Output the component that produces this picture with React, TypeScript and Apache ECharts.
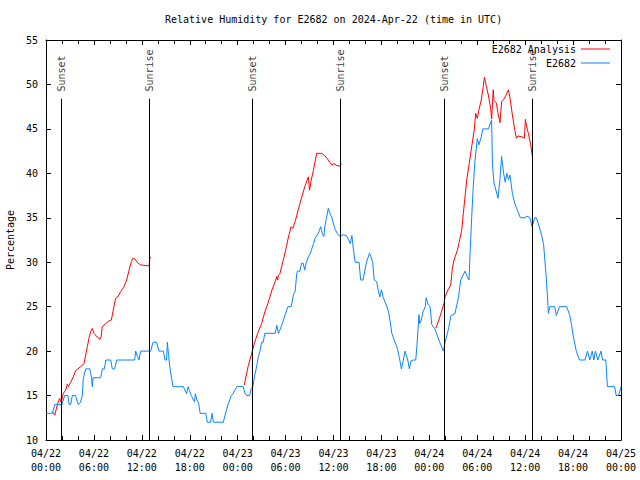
import React, { useEffect, useRef } from "react";
import * as echarts from "echarts";

const titleText = "Relative Humidity for E2682 on 2024-Apr-22 (time in UTC)";
const yAxisName = "Percentage";
const seriesNames = ["E2682 Analysis", "E2682"];
const xTickLabels = [
  "04/22\n00:00", "04/22\n06:00", "04/22\n12:00", "04/22\n18:00",
  "04/23\n00:00", "04/23\n06:00", "04/23\n12:00", "04/23\n18:00",
  "04/24\n00:00", "04/24\n06:00", "04/24\n12:00", "04/24\n18:00",
  "04/25\n00:00",
];
// hours since 04/22 00:00 UTC
const eventTimes = [1.96, 12.94, 25.84, 36.86, 49.9, 60.9];
const eventNames = ["Sunset", "Sunrise", "Sunset", "Sunrise", "Sunset", "Sunrise"];
const eventTop = 48.4;
const eventLabelBase = 49.2;

const analysisSeg1: [number, number][] = [
  [0.79, 13.2], [1.1, 12.8], [1.42, 14], [1.71, 14.7], [1.92, 14.2], [2.17, 15.25], [2.46, 15.6],
  [2.67, 16.27], [2.8, 16], [3.09, 16.5], [3.42, 17.1], [3.7, 17.8], [3.92, 17.95], [4.34, 18.25],
  [4.76, 18.6], [4.97, 19.56], [5.18, 20.5], [5.38, 21.44], [5.59, 22.2], [5.8, 22.56], [6.01, 22.0],
  [6.4, 21.6], [6.76, 21.33], [6.9, 21.6], [7.05, 22.75], [7.47, 23.1], [7.89, 23.4], [8.18, 23.5],
  [8.51, 25.0], [8.72, 25.94], [9.0, 26.1], [9.35, 26.7], [9.77, 27.25], [10.1, 28.0], [10.4, 29.1],
  [10.69, 30.06], [10.85, 30.4], [11.1, 30.4], [11.52, 29.9], [11.85, 29.7], [12.27, 29.65],
  [12.69, 29.6], [12.9, 29.6], [13.0, 30.4], [13.1, 30.6],
];
const analysisSeg2: [number, number][] = [
  [24.83, 16.2], [25.3, 18.25], [25.7, 19.56], [26.1, 20.9], [26.5, 22.0], [27.0, 23.1], [27.4, 24.4],
  [27.8, 25.4], [28.3, 26.9], [28.7, 27.8], [28.9, 28.4], [29.0, 28.0], [29.1, 28.5], [29.3, 28.75],
  [29.7, 30.2], [30.1, 31.75], [30.4, 33], [30.7, 34.0], [30.9, 33.8], [31.2, 34.6], [31.8, 36.6],
  [32.4, 38.5], [32.85, 39.6], [33.0, 38.1], [33.2, 39.2], [33.5, 40.4], [33.9, 42.25], [34.5, 42.25],
  [34.9, 42.0], [35.35, 41.5], [35.8, 40.9], [36.0, 41.1], [36.4, 40.9], [36.8, 40.8], [37.0, 41.1],
];
const analysisSeg3: [number, number][] = [
  [48.84, 22.6], [49.33, 23.87], [49.84, 25.38], [49.97, 26.1], [50.39, 27.0], [50.68, 27.44],
  [50.88, 29.3], [51.09, 30.25], [51.5, 31.3], [51.84, 32.7], [52.05, 33.6], [52.26, 35.5],
  [52.68, 39.25], [53.0, 41.13], [53.3, 43.0], [53.6, 44.7], [53.8, 46.75], [54.0, 46.2], [54.2, 47.1],
  [54.5, 48.25], [54.7, 49.45], [54.9, 50.8], [55.1, 49.94], [55.39, 48.8], [55.68, 47.3], [55.8, 46.1],
  [56.0, 49.4], [56.1, 48.2], [56.4, 47.9], [56.6, 46.75], [56.85, 45.7], [57.05, 48.06], [57.3, 48.3],
  [57.6, 48.8], [57.9, 49.38], [58.1, 48.5], [58.4, 46.56], [58.7, 44.9], [58.9, 43.94], [59.1, 44.2],
  [59.6, 44.1], [59.9, 43.94], [60.03, 46.07], [60.2, 45.2], [60.4, 44.5], [60.7, 43.19], [60.9, 41.95],
];
const stationData: [number, number][] = [
  [0, 13], [0.8, 13], [1.1, 14], [1.84, 14], [1.92, 13.8], [2.0, 14], [2.34, 15], [2.75, 15], [2.88, 14],
  [3.09, 14], [3.3, 15], [3.7, 15], [3.85, 14.5], [4.05, 14], [4.3, 14.2], [4.55, 15], [4.67, 16.9],
  [4.97, 18], [5.5, 18], [5.7, 17], [5.8, 16], [5.9, 17], [6.85, 17], [7.05, 18], [7.3, 18], [7.5, 19],
  [8.1, 19], [8.3, 18], [8.6, 18], [8.85, 19], [11.1, 19], [11.23, 20], [11.45, 19.4], [11.65, 19],
  [11.85, 20], [12.9, 20], [13.1, 20], [13.4, 21], [13.85, 21], [14.15, 20], [14.7, 20], [14.9, 19],
  [15.1, 19], [15.2, 21], [15.35, 19.5], [15.5, 18.25], [15.7, 17.1], [15.9, 16], [17.2, 16],
  [17.6, 15.2], [17.8, 16], [17.95, 15.6], [18.2, 15], [18.45, 14.5], [18.6, 14.3], [18.7, 15.2],
  [18.9, 14.5], [19.1, 14.2], [19.3, 13], [20.0, 13], [20.2, 12], [20.6, 12], [20.8, 13], [20.95, 12],
  [22.2, 12], [22.4, 12.7], [22.6, 13.4], [22.8, 14], [23.2, 15], [23.4, 15.2], [23.9, 16], [24.7, 16],
  [24.9, 15.3], [25.1, 15], [25.5, 15], [25.7, 15.8], [25.9, 16], [26.1, 17.1], [26.4, 18.4],
  [26.6, 19.4], [26.8, 20], [27.0, 21], [27.2, 21], [27.4, 22], [28.7, 22], [28.9, 22.9], [29.1, 22],
  [29.3, 22.4], [29.6, 23.1], [29.9, 24], [30.3, 25], [30.7, 25], [31.0, 26.4], [31.2, 26.7],
  [31.4, 28.75], [31.5, 29], [31.8, 29], [32.0, 29.9], [32.2, 29.9], [32.4, 29.1], [32.6, 30],
  [32.85, 30.6], [33.1, 31], [33.5, 32.1], [33.7, 32.7], [34.1, 33.25], [34.4, 34], [34.6, 33.2],
  [34.8, 32.9], [34.9, 34], [35.1, 34.9], [35.35, 36.06], [35.6, 35.4], [35.8, 35], [36.0, 34.3],
  [36.2, 33.7], [36.5, 33.2], [36.8, 32.9], [37.2, 33.1], [37.6, 33], [37.9, 32.5], [38.1, 32.1],
  [38.3, 33], [38.5, 31.4], [38.7, 30], [39.2, 30], [39.4, 28], [39.7, 28], [40.1, 29.9], [40.5, 31],
  [40.7, 30.6], [40.9, 30], [41.1, 28], [41.4, 27.8], [41.6, 26.9], [41.8, 26.1], [42.0, 26.9],
  [42.2, 26.1], [42.6, 25.2], [42.9, 24.4], [43.1, 23.3], [43.3, 22], [43.7, 21], [44.0, 20.3],
  [44.3, 19], [44.5, 18], [44.75, 19], [44.95, 20], [45.3, 19], [45.5, 18], [45.7, 18.9], [46.0, 19],
  [46.3, 19], [46.5, 21.25], [46.7, 24.1], [46.8, 23.1], [47.0, 23.5], [47.2, 24.4], [47.5, 25],
  [47.6, 26], [47.87, 25.2], [48.1, 25], [48.3, 23], [48.7, 22.5], [48.9, 22], [49.3, 21], [49.76, 20],
  [49.97, 21], [50.4, 22.5], [50.7, 24], [51.2, 24.2], [51.64, 26], [51.93, 28], [52.47, 29],
  [52.68, 28.5], [52.97, 28], [53.1, 31], [53.3, 35], [53.5, 38.5], [53.7, 41.3], [54.0, 43.9],
  [54.2, 43.2], [54.5, 44.1], [54.7, 45], [55.4, 45], [55.8, 46], [55.9, 41], [56.1, 38.9], [56.4, 37.9],
  [56.6, 37.2], [56.85, 39.4], [57.05, 41.9], [57.3, 40], [57.5, 39], [57.7, 40], [57.9, 39.3],
  [58.1, 39.8], [58.4, 37.75], [58.7, 36.6], [59.1, 35.7], [59.4, 35], [60.0, 35], [60.2, 35.2],
  [60.6, 35], [60.86, 34], [61.2, 35], [61.4, 35], [61.9, 33.6], [62.3, 32.1], [62.6, 28.75],
  [62.8, 26.1], [62.9, 24.25], [63.1, 25], [63.7, 25], [63.9, 24], [64.3, 25], [65.2, 25], [65.6, 24],
  [65.8, 23], [66.0, 21.8], [66.2, 20.9], [66.4, 20], [66.8, 19], [67.5, 19], [67.8, 20], [68.1, 19],
  [68.4, 20], [68.6, 19], [68.8, 20], [69.1, 19], [69.5, 20], [69.7, 19], [70.1, 19], [70.3, 16],
  [71.2, 16], [71.4, 15], [71.7, 15], [72.0, 16],
];

const FONT = "'DejaVu Sans Mono', 'Liberation Mono', monospace";
const BLACK = "#000000";
const RED = "#ff0000";
const BLUE = "#0a84ff";

export default function App() {
  const ref = useRef<HTMLDivElement>(null);
  useEffect(() => {
    if (!ref.current) return;
    const chart = echarts.init(ref.current, undefined, { renderer: "svg" });
    const analysisData = [
      ...analysisSeg1,
      [(analysisSeg1[analysisSeg1.length - 1][0] + analysisSeg2[0][0]) / 2, "-"],
      ...analysisSeg2,
      [(analysisSeg2[analysisSeg2.length - 1][0] + analysisSeg3[0][0]) / 2, "-"],
      ...analysisSeg3,
    ];
    const axisLine = { show: true, onZero: false, lineStyle: { color: BLACK, width: 1 } };
    const tick = { show: true, inside: true, length: 5, lineStyle: { color: BLACK, width: 1 } };
    const xCommon = {
      type: "value" as const,
      min: 0,
      max: 72,
      interval: 6,
      axisLine,
      axisTick: tick,
      minorTick: { show: true, splitNumber: 3, length: 4, lineStyle: { color: BLACK, width: 1 } },
      splitLine: { show: false },
      minorSplitLine: { show: false },
    };
    const yCommon = {
      type: "value" as const,
      min: 10,
      max: 55,
      interval: 5,
      axisLine,
      axisTick: tick,
      splitLine: { show: false },
    };
    chart.setOption({
      animation: false,
      backgroundColor: "#ffffff",
      title: {
        text: titleText,
        left: 165,
        top: 14,
        padding: 0,
        textStyle: { fontFamily: FONT, fontSize: 10, fontWeight: "normal", color: BLACK },
      },
      legend: {
        data: seriesNames.map((n) => ({ name: n, icon: "rect" })),
        orient: "vertical",
        right: 30,
        top: 43,
        align: "right",
        padding: 0,
        itemWidth: 29,
        itemHeight: 1,
        itemGap: 2,
        textStyle: { fontFamily: FONT, fontSize: 10, color: BLACK, lineHeight: 12 },
      },
      grid: {
        left: 46,
        right: 19,
        top: 40,
        bottom: 40,
        containLabel: false,
        outerBoundsMode: "none",
      },
      xAxis: [
        {
          ...xCommon,
          position: "bottom",
          axisLabel: {
            show: true,
            showMinLabel: true,
            showMaxLabel: true,
            formatter: (v: number) => xTickLabels[Math.round(v / 6)] ?? "",
            fontFamily: FONT,
            fontSize: 10,
            lineHeight: 14,
            color: BLACK,
            margin: 6,
          },
        },
        { ...xCommon, position: "top", axisLabel: { show: false } },
      ],
      yAxis: [
        {
          ...yCommon,
          position: "left",
          name: yAxisName,
          nameLocation: "middle",
          nameGap: 30,
          nameTextStyle: { fontFamily: FONT, fontSize: 10, color: BLACK },
          axisLabel: { fontFamily: FONT, fontSize: 10, color: BLACK, margin: 8 },
        },
        { ...yCommon, position: "right", axisLabel: { show: false } },
      ],
      series: [
        {
          name: seriesNames[0],
          type: "line",
          data: analysisData,
          showSymbol: false,
          symbol: "none",
          connectNulls: false,
          lineStyle: { color: RED, width: 1 },
          itemStyle: { color: RED },
          silent: true,
        },
        {
          name: seriesNames[1],
          type: "line",
          data: stationData,
          showSymbol: false,
          symbol: "none",
          lineStyle: { color: BLUE, width: 1 },
          itemStyle: { color: BLUE },
          silent: true,
          markLine: {
            silent: true,
            symbol: ["none", "none"],
            label: { show: false },
            emphasis: { disabled: true },
            lineStyle: { color: BLACK, width: 1, type: "solid" },
            data: eventTimes.map((t) => [{ coord: [t, eventTop] }, { coord: [t, 10] }]),
          },
        },
        {
          name: "events",
          type: "scatter",
          silent: true,
          symbolSize: 0,
          itemStyle: { color: BLACK },
          data: eventTimes.map((t, i) => [t, eventLabelBase, eventNames[i]]),
          label: {
            show: true,
            formatter: (p: any) => p.data[2],
            rotate: 90,
            position: "inside",
            align: "left",
            verticalAlign: "middle",
            fontFamily: FONT,
            fontSize: 10,
            color: BLACK,
            textBorderWidth: 0,
            textBorderColor: "transparent",
          },
        },
      ],
    });
    return () => chart.dispose();
  }, []);
  return (
    <div
      ref={ref}
      style={{ position: "absolute", left: 0, top: 0, width: 640, height: 480, background: "#fff" }}
    />
  );
}
